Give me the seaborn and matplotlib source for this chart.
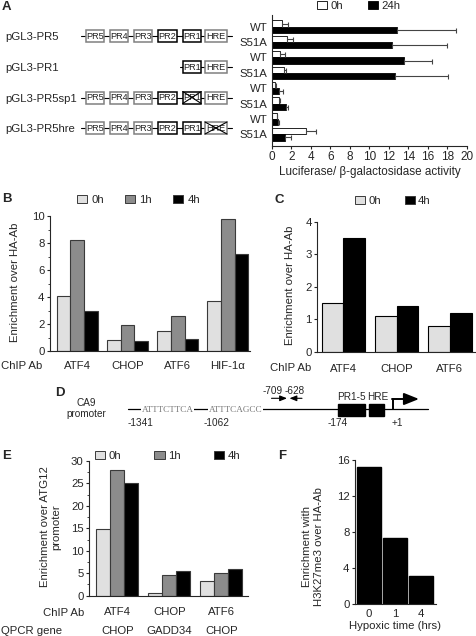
import numpy as np
import pandas as pd
import matplotlib
matplotlib.use('Agg')
import matplotlib.pyplot as plt
import matplotlib.transforms as mtransforms
import seaborn as sns
from matplotlib.patches import Patch, Rectangle

# ---------------- data ----------------
a_constructs = ['pGL3-PR5', 'pGL3-PR1', 'pGL3-PR5sp1', 'pGL3-PR5hre']
a_rows = ['WT', 'S51A', 'WT', 'S51A', 'WT', 'S51A', 'WT', 'S51A']
a_times = ['0h', '24h']
a_0h = [1.0, 1.55, 0.85, 1.2, 0.27, 0.75, 0.48, 3.5]
a_0h_err = [0.6, 0.65, 0.5, 0.25, 0.13, 0.1, 0.07, 1.0]
a_24h = [12.85, 12.34, 13.54, 12.6, 0.68, 1.44, 0.62, 1.37]
a_24h_err = [6.0, 5.64, 2.84, 5.49, 0.42, 0.16, 0.06, 0.58]

b_ab = ['ATF4', 'CHOP', 'ATF6', 'HIF-1\u03b1']
b_times = ['0h', '1h', '4h']
b_0h = [4.05, 0.8, 1.5, 3.7]
b_1h = [8.25, 1.9, 2.6, 9.8]
b_4h = [2.95, 0.75, 0.9, 7.15]

c_ab = ['ATF4', 'CHOP', 'ATF6']
c_times = ['0h', '4h']
c_0h = [1.5, 1.1, 0.8]
c_4h = [3.5, 1.4, 1.2]

e_chip = ['ATF4', 'CHOP', 'ATF6']
e_qpcr = ['CHOP', 'GADD34', 'CHOP']
e_times = ['0h', '1h', '4h']
e_0h = [14.9, 0.6, 3.2]
e_1h = [28.0, 4.5, 5.0]
e_4h = [25.0, 5.4, 5.9]

f_time = ['0', '1', '4']
f_val = [15.2, 7.3, 3.15]

# ---------------- style ----------------
W, H = 477, 636
sns.set_theme(style='ticks')
plt.rcParams['font.family'] = ['Liberation Sans', 'DejaVu Sans']
plt.rcParams['axes.linewidth'] = 0.8
plt.rcParams['xtick.major.width'] = 0.8
plt.rcParams['ytick.major.width'] = 0.8
plt.rcParams['xtick.major.size'] = 2.5
plt.rcParams['ytick.major.size'] = 2.5
plt.rcParams['xtick.direction'] = 'out'
plt.rcParams['ytick.direction'] = 'out'
FS = 8.2
FD = 7.2

fig = plt.figure(figsize=(W / 100, H / 100), dpi=100)


def rect(l, t, r, b):
    return [l / W, 1 - b / H, (r - l) / W, (b - t) / H]


def fx(x):
    return x / W


def fy(y):
    return 1 - y / H


grey0 = '#e0e0e0'
grey1 = '#8c8c8c'
edge = '#3a3a3a'

# overlay for schematic drawings
ov = fig.add_axes([0, 0, 1, 1])
ov.set_xlim(0, W)
ov.set_ylim(H, 0)
ov.axis('off')
ov.patch.set_alpha(0)

# ---------------- panel A schematic ----------------
elem_names = ['PR5', 'PR4', 'PR3', 'PR2', 'PR1', 'HRE']
elem_x = [86, 110, 134, 158.3, 182.7, 205]
elem_w = [18.5, 18.5, 18.5, 18.5, 18.5, 22]
elem_edge = ['#808080', '#808080', '#808080', 'black', 'black', '#808080']
row_y = [36, 67, 97.5, 128]
present = [[1, 1, 1, 1, 1, 1], [0, 0, 0, 0, 1, 1], [1, 1, 1, 1, 1, 1], [1, 1, 1, 1, 1, 1]]
crossed = [None, None, 'PR1', 'HRE']
line_start = [81, 180, 81, 81]
for k, name in enumerate(a_constructs):
    y = row_y[k]
    ov.text(5, y + 1, name, fontsize=FS, ha='left', va='center')
    ov.plot([line_start[k], 232], [y, y], color='black', lw=0.8, zorder=1)
    for j, en in enumerate(elem_names):
        if not present[k][j]:
            continue
        x0, w, h = elem_x[j], elem_w[j], 12
        ov.add_patch(Rectangle((x0, y - h / 2), w, h, facecolor='white',
                               edgecolor=elem_edge[j], lw=1.1, zorder=2))
        ov.text(x0 + w / 2, y + 0.5, en, fontsize=6.6, ha='center', va='center',
                color='#222', zorder=3)
        if crossed[k] == en:
            ov.plot([x0, x0 + w], [y - h / 2, y + h / 2], color='black', lw=0.8, zorder=4)
            ov.plot([x0, x0 + w], [y + h / 2, y - h / 2], color='black', lw=0.8, zorder=4)

# ---------------- panel A bars ----------------
axA = fig.add_axes(rect(272, 15, 467, 146))
axA.patch.set_alpha(0)
row_ids = [f'{r}_{i}' for i, r in enumerate(a_rows)]
dfA = pd.DataFrame({'row': row_ids * 2,
                    'time': [a_times[0]] * 8 + [a_times[1]] * 8,
                    'val': a_0h + a_24h})
sns.barplot(data=dfA, y='row', x='val', hue='time', orient='h',
            palette=['white', 'black'], edgecolor='black', linewidth=0.6,
            width=0.82, errorbar=None, legend=False, ax=axA)
for cont, errs in zip(axA.containers, [a_0h_err, a_24h_err]):
    for bar, e in zip(cont, errs):
        axA.errorbar(bar.get_width(), bar.get_y() + bar.get_height() / 2,
                     xerr=[[0], [e]], fmt='none', ecolor='#444', elinewidth=0.8,
                     capsize=1.8, capthick=0.8)
axA.set_xlim(0, 20)
axA.set_ylim(7.76, -0.76)
axA.set_xticks(np.arange(0, 21, 2))
axA.set_yticks(range(8))
axA.set_yticklabels(a_rows, fontsize=FS)
axA.tick_params(axis='y', length=0, pad=3)
axA.tick_params(axis='x', labelsize=FS + 0.3, pad=1)
axA.set_ylabel('')
axA.set_xlabel('Luciferase/ \u03b2-galactosidase activity', fontsize=FS + 0.2, labelpad=2)
sns.despine(ax=axA)
axA.legend(handles=[Patch(facecolor='white', edgecolor='black', lw=0.6),
                    Patch(facecolor='black', edgecolor='black', lw=0.6)],
           labels=a_times, loc='center left', bbox_to_anchor=(fx(316.7), fy(6)),
           bbox_transform=fig.transFigure, ncol=2, frameon=False, fontsize=FS,
           handlelength=0.9, handleheight=0.65, handletextpad=0.3,
           columnspacing=2.2, borderpad=0, borderaxespad=0)

# ---------------- panel B ----------------
axB = fig.add_axes(rect(50, 216, 250, 351))
axB.patch.set_alpha(0)
dfB = pd.DataFrame({'ab': b_ab * 3,
                    'time': sum([[t] * 4 for t in b_times], []),
                    'val': b_0h + b_1h + b_4h})
sns.barplot(data=dfB, x='ab', y='val', hue='time', palette=[grey0, grey1, 'black'],
            edgecolor=edge, linewidth=0.8, width=0.82, errorbar=None, legend=False, ax=axB)
axB.set_xlim(-0.54, 3.44)
axB.set_ylim(0, 10)
axB.set_yticks(range(0, 11, 2))
axB.set_yticks(range(1, 10, 2), minor=True)
axB.tick_params(axis='y', which='minor', length=1.5, width=0.6)
axB.tick_params(axis='y', labelsize=FS, pad=1.5)
axB.tick_params(axis='x', length=0, pad=7, labelsize=FS)
axB.set_xlabel('')
axB.set_ylabel('Enrichment over HA-Ab', fontsize=FS, va='center')
axB.yaxis.set_label_coords(fx(15), fy(282), transform=fig.transFigure)
sns.despine(ax=axB)
fig.text(fx(1), fy(366), 'ChIP Ab', fontsize=FS, ha='left', va='center')
axB.legend(handles=[Patch(facecolor=c, edgecolor=edge, lw=0.7) for c in [grey0, grey1, 'black']],
           labels=b_times, loc='center left', bbox_to_anchor=(fx(76.7), fy(200)),
           bbox_transform=fig.transFigure, ncol=3, frameon=False, fontsize=FS,
           handlelength=0.9, handleheight=0.65, handletextpad=0.4,
           columnspacing=1.8, borderpad=0, borderaxespad=0)

# ---------------- panel C ----------------
axC = fig.add_axes(rect(317.3, 221.7, 477, 351.7))
axC.patch.set_alpha(0)
dfC = pd.DataFrame({'ab': c_ab * 2,
                    'time': [c_times[0]] * 3 + [c_times[1]] * 3,
                    'val': c_0h + c_4h})
sns.barplot(data=dfC, x='ab', y='val', hue='time', palette=[grey0, 'black'],
            edgecolor='black', linewidth=0.8, width=0.82, errorbar=None, legend=False, ax=axC)
axC.set_xlim(-0.49, 2.51)
axC.set_ylim(0, 4)
axC.set_yticks(range(0, 5))
axC.tick_params(axis='y', labelsize=FS, pad=1.5)
axC.tick_params(axis='x', length=0, pad=8.5, labelsize=FS)
axC.set_xlabel('')
axC.set_ylabel('Enrichment over HA-Ab', fontsize=FS, va='center')
axC.yaxis.set_label_coords(fx(290), fy(285), transform=fig.transFigure)
sns.despine(ax=axC)
fig.text(fx(270), fy(368), 'ChIP Ab', fontsize=FS, ha='left', va='center')
axC.legend(handles=[Patch(facecolor=c, edgecolor=edge, lw=0.7) for c in [grey0, 'black']],
           labels=c_times, loc='center left', bbox_to_anchor=(fx(355), fy(201)),
           bbox_transform=fig.transFigure, ncol=2, frameon=False, fontsize=FS,
           handlelength=0.9, handleheight=0.65, handletextpad=0.25,
           columnspacing=2.1, borderpad=0, borderaxespad=0)

# ---------------- panel D schematic ----------------
yl = 409.3
ov.plot([128, 428], [yl, yl], color='black', lw=0.9, zorder=1)
for xc, s in [(167.5, 'ATTTCTTCA'), (235.5, 'ATTTCAGCC')]:
    ov.text(xc, yl + 0.3, s, fontsize=6.6, family=['Liberation Serif', 'DejaVu Serif'],
            color='#777777', ha='center', va='center', zorder=3,
            bbox=dict(facecolor='white', edgecolor='none', pad=0.3))
ov.add_patch(Rectangle((338, 404), 27, 11.7, facecolor='black', edgecolor='black', zorder=2))
ov.add_patch(Rectangle((369, 404), 15, 11.7, facecolor='black', edgecolor='black', zorder=2))
ov.plot([392.7, 392.7], [yl, 399], color='black', lw=1.4, zorder=2)
ov.annotate('', xy=(419, 399), xytext=(392.0, 399),
            arrowprops=dict(arrowstyle='-|>,head_length=0.75,head_width=0.3',
                            lw=1.4, color='black', shrinkA=0, shrinkB=0))
ov.annotate('', xy=(287, 398.3), xytext=(271.5, 398.3),
            arrowprops=dict(arrowstyle='-|>,head_length=0.35,head_width=0.14',
                            lw=0.8, color='black', shrinkA=0, shrinkB=0))
ov.annotate('', xy=(289.5, 398.3), xytext=(302, 398.3),
            arrowprops=dict(arrowstyle='-|>,head_length=0.35,head_width=0.14',
                            lw=0.8, color='black', shrinkA=0, shrinkB=0))
for x, y, s, ha in [(86, 403.5, 'CA9', 'center'), (86, 413.8, 'promoter', 'center'),
                    (273, 390.5, '-709', 'center'), (295, 390.5, '-628', 'center'),
                    (351.7, 396.5, 'PR1-5', 'center'), (378, 396.5, 'HRE', 'center'),
                    (128, 423.3, '-1341', 'left'), (203.3, 423.3, '-1062', 'left'),
                    (328, 423.3, '-174', 'left'), (391.7, 423.3, '+1', 'left')]:
    ov.text(x, y, s, fontsize=FD, ha=ha, va='center')

# ---------------- panel E ----------------
axE = fig.add_axes(rect(89.3, 461, 248.3, 595.7))
axE.patch.set_alpha(0)
dfE = pd.DataFrame({'ab': e_chip * 3,
                    'time': sum([[t] * 3 for t in e_times], []),
                    'val': e_0h + e_1h + e_4h})
sns.barplot(data=dfE, x='ab', y='val', hue='time', palette=[grey0, grey1, 'black'],
            edgecolor=edge, linewidth=0.8, width=0.81, errorbar=None, legend=False, ax=axE)
axE.set_xlim(-0.54, 2.52)
axE.set_ylim(0, 30)
axE.set_yticks(range(0, 31, 5))
axE.set_yticks(np.arange(2.5, 30, 5), minor=True)
axE.tick_params(axis='y', which='minor', length=1.5, width=0.6)
axE.tick_params(axis='y', labelsize=FS, pad=1.5)
axE.tick_params(axis='x', length=0, pad=8, labelsize=FS)
trE = mtransforms.blended_transform_factory(axE.transData, fig.transFigure)
for i, q in enumerate(e_qpcr):
    axE.text(i, fy(630.5), q, fontsize=FS, ha='center', va='center', transform=trE)
axE.set_xlabel('')
axE.set_ylabel('Enrichment over ATG12\npromoter', fontsize=FS, va='center', linespacing=1.2)
axE.yaxis.set_label_coords(fx(50.5), fy(527), transform=fig.transFigure)
sns.despine(ax=axE)
fig.text(fx(43.3), fy(612.7), 'ChIP Ab', fontsize=FS, ha='left', va='center')
fig.text(fx(1), fy(630.5), 'QPCR gene', fontsize=FS, ha='left', va='center')
axE.legend(handles=[Patch(facecolor=c, edgecolor=edge, lw=0.7) for c in [grey0, grey1, 'black']],
           labels=e_times, loc='center left', bbox_to_anchor=(fx(95), fy(456)),
           bbox_transform=fig.transFigure, ncol=3, frameon=False, fontsize=FS,
           handlelength=0.9, handleheight=0.65, handletextpad=0.3,
           columnspacing=2.9, borderpad=0, borderaxespad=0)

# ---------------- panel F ----------------
axF = fig.add_axes(rect(355, 460, 436, 604))
axF.patch.set_alpha(0)
dfF = pd.DataFrame({'t': f_time, 'val': f_val})
sns.barplot(data=dfF, x='t', y='val', color='black', edgecolor='black',
            width=0.9, errorbar=None, ax=axF)
axF.set_xlim(-0.54, 2.58)
axF.set_ylim(0, 16)
axF.set_yticks(range(0, 17, 4))
axF.tick_params(axis='y', labelsize=FS, pad=1.5)
axF.tick_params(axis='x', length=0, pad=3.5, labelsize=FS)
axF.set_xlabel('Hypoxic time (hrs)', fontsize=FS, labelpad=1.5)
axF.set_ylabel('Enrichment with\nH3K27me3 over HA-Ab', fontsize=FS, va='center', linespacing=1.2)
axF.yaxis.set_label_coords(fx(313), fy(546.7), transform=fig.transFigure)
sns.despine(ax=axF)

# ---------------- panel letters ----------------
for x, y, s in [(2, 7, 'A'), (2, 199, 'B'), (275, 200, 'C'), (55, 393, 'D'),
                (2, 456, 'E'), (278, 456, 'F')]:
    fig.text(fx(x), fy(y), s, fontsize=9.5, fontweight='bold', ha='left', va='center')

fig.savefig('out.png', dpi=100)
